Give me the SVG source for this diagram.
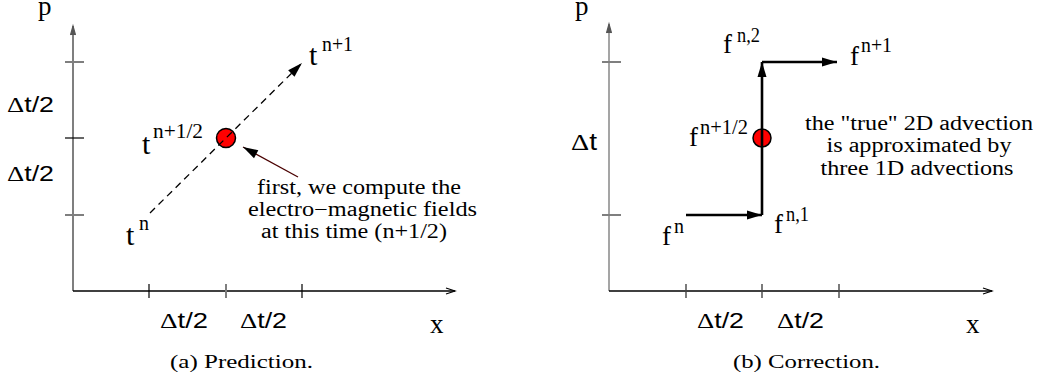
<svg xmlns="http://www.w3.org/2000/svg" width="1039" height="381" viewBox="0 0 1039 381">
<defs>
<style>
.ax{stroke:#000;stroke-width:1.3;fill:none}
.axg{stroke:#7f7f7f;stroke-width:2;fill:none}
.axg2{stroke:#7f7f7f;stroke-width:1.4;fill:none}
.tk{stroke:#000;stroke-width:1.2}
.tkg{stroke:#7f7f7f;stroke-width:2}
.tkd{stroke:#444;stroke-width:1.4}
.serif{font-family:"Liberation Serif","Times New Roman",serif;fill:#000}
.sans{font-family:"Liberation Sans",Arial,sans-serif}
.lbl{font-size:20px}
.big{font-size:27px}
.tt{font-size:30px}
.ff{font-size:27px}
.sup{font-size:20px}
.dl{font-size:22px}
.cap{font-size:19px}
.pt{fill:#ff0000;stroke:#000;stroke-width:1.5}
.thick{stroke:#000;stroke-width:2.6;fill:none}
</style>
<marker id="open" markerUnits="userSpaceOnUse" markerWidth="12" markerHeight="10" refX="9" refY="4" orient="auto" overflow="visible">
<path d="M0,1 L9,4 L0,7" fill="none" stroke="#000" stroke-width="1.2"/>
</marker>
<marker id="openg" markerUnits="userSpaceOnUse" markerWidth="12" markerHeight="10" refX="9" refY="4" orient="auto" overflow="visible">
<path d="M0,1.5 L9,4 L0,6.5" fill="#555" stroke="#555" stroke-width="1.2"/>
</marker>
<marker id="head" markerUnits="userSpaceOnUse" markerWidth="16" markerHeight="10" refX="15" refY="4.5" orient="auto" overflow="visible">
<path d="M0,0 L15,4.5 L0,9 Z" fill="#000"/>
</marker>
</defs>
<rect width="1039" height="381" fill="#fff"/>

<g id="axes-left">
<line class="axg" x1="73" y1="291" x2="73" y2="26" marker-end="url(#openg)"/>
<line class="ax" x1="73" y1="291" x2="455" y2="291" marker-end="url(#open)"/>
<line class="tkg" x1="65" y1="62" x2="84" y2="62"/>
<line class="tk" x1="65" y1="138" x2="84" y2="138"/>
<line class="tkg" x1="65" y1="215" x2="84" y2="215"/>
<line class="tk" x1="149" y1="284" x2="149" y2="298"/>
<line class="tkg" x1="226" y1="284" x2="226" y2="298"/>
<line class="tk" x1="302" y1="284" x2="302" y2="298"/>
<text class="serif big" x="38" y="15">p</text>
<text class="serif big" x="430" y="333">x</text>
<text class="serif dl" x="7" y="112" textLength="47" lengthAdjust="spacingAndGlyphs">Δ<tspan class="sans">t/2</tspan></text>
<text class="serif dl" x="7" y="181" textLength="47" lengthAdjust="spacingAndGlyphs">Δ<tspan class="sans">t/2</tspan></text>
<text class="serif dl" x="160" y="328" textLength="48" lengthAdjust="spacingAndGlyphs">Δ<tspan class="sans">t/2</tspan></text>
<text class="serif dl" x="240" y="328" textLength="47" lengthAdjust="spacingAndGlyphs">Δ<tspan class="sans">t/2</tspan></text>
</g>

<g id="axes-right">
<line class="axg2" x1="609" y1="291" x2="609" y2="24" marker-end="url(#openg)"/>
<line class="ax" x1="609" y1="291" x2="992" y2="291" marker-end="url(#open)"/>
<line class="tkg" x1="602" y1="62" x2="621" y2="62"/>
<line class="tkg" x1="602" y1="215" x2="621" y2="215"/>
<line class="tkd" x1="686" y1="284" x2="686" y2="298"/>
<line class="tkd" x1="762" y1="284" x2="762" y2="298"/>
<line class="tkd" x1="839" y1="284" x2="839" y2="298"/>
<text class="serif big" x="575" y="15">p</text>
<text class="serif big" x="966" y="333">x</text>
<text class="serif" font-size="23" x="571" y="150" textLength="26" lengthAdjust="spacingAndGlyphs">Δ<tspan class="sans">t</tspan></text>
<text class="serif dl" x="697" y="328" textLength="47" lengthAdjust="spacingAndGlyphs">Δ<tspan class="sans">t/2</tspan></text>
<text class="serif dl" x="777" y="328" textLength="47" lengthAdjust="spacingAndGlyphs">Δ<tspan class="sans">t/2</tspan></text>
</g>

<g id="point-left">
<circle class="pt" cx="226" cy="138" r="9.5"/>
</g>
<g id="point-right">
<circle class="pt" cx="762" cy="138" r="9"/>
</g>

<g id="connectors">
<line x1="150" y1="213" x2="302" y2="63" stroke="#000" stroke-width="1.3" stroke-dasharray="7,5" marker-end="url(#head)"/>
<line x1="298" y1="177" x2="243" y2="147" stroke="#4a0000" stroke-width="1.3" marker-end="url(#head)"/>
<line class="thick" x1="686" y1="215" x2="762" y2="215" marker-end="url(#head)"/>
<line class="thick" x1="762" y1="215" x2="762" y2="62" marker-end="url(#head)"/>
<line class="thick" x1="762" y1="62" x2="837" y2="62" marker-end="url(#head)"/>
</g>

<g id="label-tn1">
<text class="serif tt" x="309" y="65">t</text>
<text class="serif sup" x="322" y="51" textLength="31" lengthAdjust="spacingAndGlyphs">n+1</text>
</g>
<g id="label-tn12">
<text class="serif tt" x="142" y="154">t</text>
<text class="serif sup" x="153" y="138" textLength="50" lengthAdjust="spacingAndGlyphs">n+1/2</text>
</g>
<g id="label-tn">
<text class="serif tt" x="126" y="245">t</text>
<text class="serif sup" x="139" y="230">n</text>
</g>
<g id="note-left">
<text class="serif lbl" x="257" y="194" textLength="204" lengthAdjust="spacingAndGlyphs">first, we compute the</text>
<text class="serif lbl" x="248" y="216" textLength="229" lengthAdjust="spacingAndGlyphs">electro−magnetic fields</text>
<text class="serif lbl" x="261" y="238" textLength="186" lengthAdjust="spacingAndGlyphs">at this time (n+1/2)</text>
</g>

<g id="label-fn2">
<text class="serif ff" x="723" y="53">f</text>
<text class="serif sup" x="737" y="42" textLength="23" lengthAdjust="spacingAndGlyphs">n,2</text>
</g>
<g id="label-fn1p">
<text class="serif ff" x="850" y="65">f</text>
<text class="serif sup" x="861" y="52" textLength="31" lengthAdjust="spacingAndGlyphs">n+1</text>
</g>
<g id="label-fn12">
<text class="serif ff" x="689" y="146">f</text>
<text class="serif sup" x="700" y="134" textLength="48" lengthAdjust="spacingAndGlyphs">n+1/2</text>
</g>
<g id="label-fn1">
<text class="serif ff" x="774" y="233">f</text>
<text class="serif sup" x="786" y="221" textLength="23" lengthAdjust="spacingAndGlyphs">n,1</text>
</g>
<g id="label-fn">
<text class="serif ff" x="662" y="245">f</text>
<text class="serif sup" x="674" y="233">n</text>
</g>
<g id="note-right">
<text class="serif lbl" x="919" y="130" text-anchor="middle" textLength="228" lengthAdjust="spacingAndGlyphs">the "true" 2D advection</text>
<text class="serif lbl" x="919" y="152" text-anchor="middle" textLength="185" lengthAdjust="spacingAndGlyphs">is approximated by</text>
<text class="serif lbl" x="917" y="175" text-anchor="middle" textLength="193" lengthAdjust="spacingAndGlyphs">three 1D advections</text>
</g>

<g id="captions">
<text class="serif cap" x="170" y="368" textLength="143" lengthAdjust="spacingAndGlyphs">(a)  Prediction.</text>
<text class="serif cap" x="733" y="368" textLength="147" lengthAdjust="spacingAndGlyphs">(b)  Correction.</text>
</g>
</svg>
